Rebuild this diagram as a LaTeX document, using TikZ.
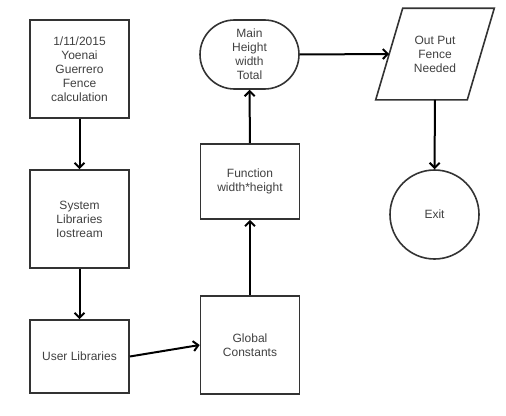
\documentclass[tikz,border=0pt]{standalone}
\usepackage{fontspec}
\setmainfont{Liberation Sans}
\usetikzlibrary{shapes.misc}
\usetikzlibrary{arrows.meta}
\definecolor{edge}{HTML}{333333}
\definecolor{txt}{HTML}{404040}
\tikzset{
    shp/.style={
        draw=edge, line width=1.6pt, align=center, inner sep=0pt,
        text=txt, font=\fontsize{12}{14}\selectfont
    },
    blk/.style={
        shp, rectangle, minimum width=99pt, minimum height=#1
    },
    blk/.default=98pt,
    term/.style={
        shp, rounded rectangle, minimum width=99pt, minimum height=69pt
    },
    io/.style={
        shp, draw=none, rectangle, minimum width=90pt, minimum height=90pt
    },
    stop/.style={
        shp, circle, minimum size=89pt
    },
    flow/.style={
        draw=black, line width=2pt, -{Straight Barb[length=5pt,width=10pt,line width=2pt]}
    }
}
\newcommand{\slant}{13.5}

\begin{document}
\begin{tikzpicture}[x=1pt,y=-1pt]
		\useasboundingbox (0,0) rectangle (506,415);

		% Left column
		\node[blk] (start) at (79.5,69) {1/11/2015\\Yoenai\\Guerrero\\Fence\\calculation};
		\node[blk] (sys) at (79.5,219) {System\\Libraries\\Iostream};
		\node[blk=73pt] (usr) at (79.5,356.5) {User Libraries};

		% Middle column
		\node[blk] (glob) at (250,345) {Global\\Constants};
		\node[blk=75pt] (func) at (250,181.5) {Function\\width*height};
		\node[term] (main) at (249.5,54.5) {Main\\Height\\width\\Total};

		% Right column
		\node[io] (out) at (435,54) {Out Put\\Fence\\Needed};
		\draw[draw=edge, line width=1.6pt, line join=miter]
			([xshift=-\slant pt]out.south west) -- ([xshift=-\slant pt]out.south east)
			-- ([xshift=\slant pt]out.north east) -- ([xshift=\slant pt]out.north west) -- cycle;
		\node[stop] (exit) at (434.5,214.5) {Exit};

		% Connectors
		\draw[flow] (start) -- (sys);
		\draw[flow] (sys) -- (usr);
		\draw[flow] (usr.east) -- (glob.west);
		\draw[flow] (glob) -- (func);
		\draw[flow] (func) -- (main);
		\draw[flow] (main.east) -- (out.west);
		\draw[flow] (out) -- (exit);

	\end{tikzpicture}
\end{document}
